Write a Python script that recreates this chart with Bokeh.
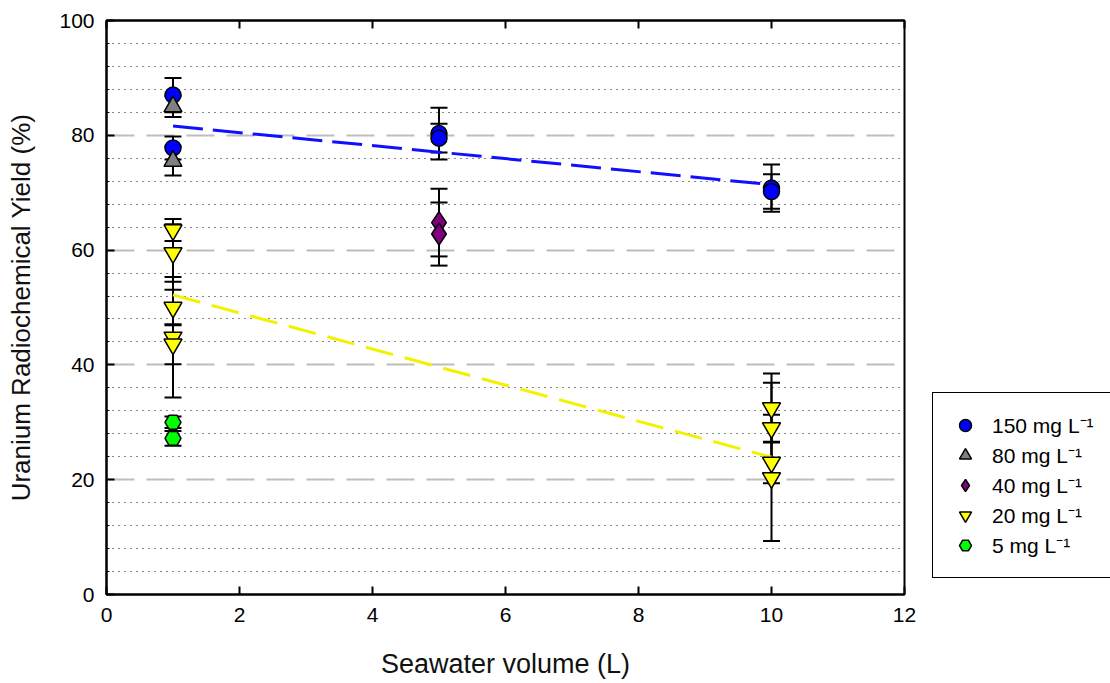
from bokeh.plotting import figure
from bokeh.models import (ColumnDataSource, Whisker, TeeHead, FixedTicker, LinearAxis,
                          Legend, LegendItem, Range1d)
from bokeh.embed import file_html
from bokeh.resources import INLINE

# ---------------- data ----------------
x150 = [1, 1, 5, 5, 10, 10]
y150 = [87.0, 77.8, 80.3, 79.5, 70.8, 70.2]
e150 = [3.0, 2.0, 4.5, 2.5, 4.1, 3.0]

x80 = [1, 1]
y80 = [85.0, 75.5]
e80 = [1.8, 2.5]

x40 = [5, 5]
y40 = [64.8, 62.8]
e40 = [5.9, 5.5]

x20 = [1, 1, 1, 1, 1, 10, 10, 10, 10]
y20 = [63.5, 59.5, 50.0, 44.8, 43.6, 32.5, 29.0, 23.0, 20.3]
e20 = [1.9, 5.0, 3.1, 10.5, 3.5, 6.0, 7.9, 3.6, 11.0]

x5 = [1, 1]
y5 = [30.0, 27.2]
e5 = [1.0, 1.3]

trend_x = [1, 10]
trend150 = [81.6, 71.4]
trend20 = [52.2, 23.9]

labels = ["150 mg L\u207b\u00b9", "80 mg L\u207b\u00b9", "40 mg L\u207b\u00b9",
          "20 mg L\u207b\u00b9", "5 mg L\u207b\u00b9"]

x_ticks = [0, 2, 4, 6, 8, 10, 12]
y_ticks = [0, 20, 40, 60, 80, 100]
y_minor = [v for v in range(4, 100, 4) if v % 20 != 0]

FONT = "Liberation Sans"

p = figure(frame_width=798, frame_height=574, output_backend="svg", toolbar_location=None,
           x_range=Range1d(0, 12), y_range=Range1d(0, 100),
           min_border_left=106, min_border_top=20, min_border_right=205, min_border_bottom=85,
           background_fill_color="white", border_fill_color="white")
p.outline_line_color = "black"
p.outline_line_width = 2
p.outline_line_alpha = 1

# axes
p.xaxis.ticker = FixedTicker(ticks=x_ticks)
p.yaxis.ticker = FixedTicker(ticks=y_ticks, minor_ticks=y_minor)
for ax in (p.xaxis[0], p.yaxis[0]):
    ax.axis_line_width = 2
    ax.axis_line_color = "black"
    ax.major_tick_in = 8
    ax.major_tick_out = 0
    ax.major_tick_line_width = 2
    ax.minor_tick_in = 3
    ax.minor_tick_out = 0
    ax.major_label_text_font = FONT
    ax.major_label_text_font_size = "21px"
    ax.major_label_text_color = "black"
    ax.axis_label_text_font = FONT
    ax.axis_label_text_font_style = "normal"
    ax.axis_label_text_color = "#111111"
p.xaxis.axis_label_text_font_size = "27px"
p.yaxis.axis_label_text_font_size = "26px"
p.xaxis.minor_tick_line_color = None
p.xaxis.axis_label = "Seawater volume (L)"
p.yaxis.axis_label = "Uranium Radiochemical Yield (%)"
p.xaxis.major_label_standoff = 13
p.xaxis.axis_label_standoff = 24
p.yaxis.major_label_standoff = 12
p.yaxis.axis_label_standoff = 20

top = LinearAxis(ticker=FixedTicker(ticks=x_ticks), major_tick_in=8, major_tick_out=0,
                 major_tick_line_width=2, minor_tick_line_color=None, axis_line_width=2,
                 major_label_text_color=None, major_label_text_font_size="1px",
                 major_label_standoff=0)
p.add_layout(top, "above")

# grid
p.xgrid.grid_line_color = None
p.ygrid.ticker = FixedTicker(ticks=y_ticks, minor_ticks=y_minor)
p.ygrid.grid_line_color = "#bdbdbd"
p.ygrid.grid_line_width = 2
p.ygrid.grid_line_dash = "28 12"
p.ygrid.minor_grid_line_color = "#111111"
p.ygrid.minor_grid_line_width = 1
p.ygrid.minor_grid_line_dash = "1 5"

# error bars
def add_err(xs, ys, es):
    src = ColumnDataSource(dict(x=xs, lo=[y - e for y, e in zip(ys, es)],
                                hi=[y + e for y, e in zip(ys, es)]))
    w = Whisker(base="x", lower="lo", upper="hi", source=src, line_color="black", line_width=2,
                upper_head=TeeHead(size=17, line_width=2, line_color="black"),
                lower_head=TeeHead(size=17, line_width=2, line_color="black"),
                level="underlay")
    p.add_layout(w)

for xs, ys, es in [(x150, y150, e150), (x80, y80, e80), (x40, y40, e40), (x20, y20, e20), (x5, y5, e5)]:
    add_err(xs, ys, es)

# trend lines
p.line(trend_x, trend150, line_color="#1010ff", line_width=3, line_dash="30 10")
p.line(trend_x, trend20, line_color="#f2f200", line_width=3, line_dash="28 12")

# markers
r150 = p.scatter(x150, y150, marker="circle", size=16, fill_color="#0000ff", line_color="black", line_width=1.5)
r80 = p.scatter(x80, y80, marker="triangle", size=18, fill_color="#808080", line_color="black", line_width=1.5)
r40 = p.scatter(x40, y40, marker="diamond", size=22, fill_color="#800080", line_color="black", line_width=1.5)
r20 = p.scatter(x20, y20, marker="inverted_triangle", size=18, fill_color="#ffff00", line_color="black", line_width=1.5)
r5 = p.scatter(x5, y5, marker="hex", size=16, fill_color="#00ff00", line_color="black", line_width=1.5)

legend = Legend(items=[LegendItem(label=l, renderers=[r]) for l, r in
                       zip(labels, [r150, r80, r40, r20, r5])],
                location=(28, 16), margin=0, padding=17, spacing=0,
                glyph_width=30, glyph_height=30,
                label_height=20, label_standoff=12, label_text_font=FONT,
                label_text_font_size="21px", label_text_color="black",
                border_line_color="black", border_line_width=1.5, border_line_alpha=1,
                background_fill_color="white", background_fill_alpha=1)
p.add_layout(legend, "right")

open("out.html", "w").write(file_html(p, INLINE))
